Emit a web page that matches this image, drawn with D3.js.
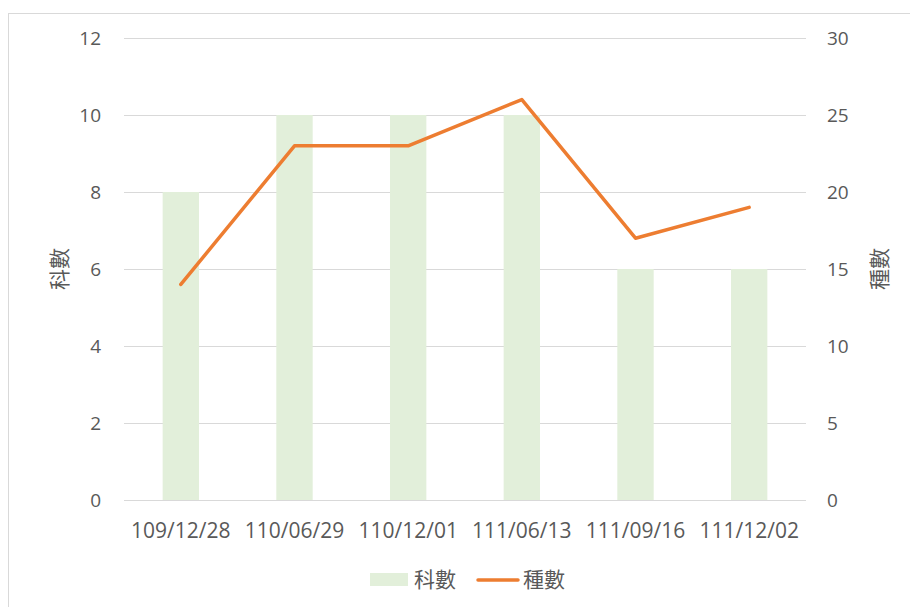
<!DOCTYPE html>
<head>
    <meta charset="utf-8" />
    <title>科數 / 種數</title>
</head>
<style>
    body {
        margin: 0;
        background-color: #ffffff;
    }
    text {
        font-family: "Open Sans", "Noto Sans CJK TC", sans-serif;
        fill: #595959;
    }
    .cjk {
        font-family: "Noto Sans CJK TC", sans-serif;
    }
</style>
<body>
    <svg id="chart" width="910" height="607"></svg>
    <script src="https://d3js.org/d3.v7.min.js"></script>
    <script>
        // data
        var dates = ["109/12/28", "110/06/29", "110/12/01", "111/06/13", "111/09/16", "111/12/02"];
        var keShu = [8, 10, 10, 10, 6, 6];        // 科數 (bars, left axis)
        var zhongShu = [14, 23, 23, 26, 17, 19];  // 種數 (line, right axis)
        var leftTicks = [0, 2, 4, 6, 8, 10, 12];
        var rightTicks = [0, 5, 10, 15, 20, 25, 30];

        var svg = d3.select("#chart");

        // chart border
        svg.append("rect")
            .attr("x", 8.5)
            .attr("y", 13.5)
            .attr("width", 940)
            .attr("height", 640)
            .attr("fill", "none")
            .attr("stroke", "#d9d9d9");

        var plotLeft = 124, plotRight = 806, plotTop = 38, plotBottom = 500;

        var x = d3.scaleBand().domain(dates).range([plotLeft, plotRight]).paddingInner(0.68).paddingOuter(0.34);
        var yL = d3.scaleLinear().domain([0, 12]).range([plotBottom, plotTop]);
        var yR = d3.scaleLinear().domain([0, 30]).range([plotBottom, plotTop]);

        // gridlines
        svg.append("g")
            .selectAll("line")
            .data(leftTicks)
            .enter().append("line")
            .attr("x1", plotLeft)
            .attr("x2", plotRight)
            .attr("y1", function(d) { return Math.round(yL(d)) + 0.5; })
            .attr("y2", function(d) { return Math.round(yL(d)) + 0.5; })
            .attr("stroke", "#d9d9d9")
            .attr("stroke-width", 1);

        // left tick labels
        svg.append("g")
            .selectAll("text")
            .data(leftTicks)
            .enter().append("text")
            .attr("x", 101)
            .attr("y", function(d) { return yL(d); })
            .attr("dy", "0.35em")
            .attr("text-anchor", "end")
            .attr("font-size", "19px")
            .text(function(d) { return d; });

        // right tick labels
        svg.append("g")
            .selectAll("text")
            .data(rightTicks)
            .enter().append("text")
            .attr("x", 827)
            .attr("y", function(d) { return yR(d); })
            .attr("dy", "0.35em")
            .attr("text-anchor", "start")
            .attr("font-size", "19px")
            .text(function(d) { return d; });

        // bars
        svg.append("g")
            .selectAll("rect")
            .data(dates)
            .enter().append("rect")
            .attr("x", function(d) { return x(d); })
            .attr("width", x.bandwidth())
            .attr("y", function(d, i) { return yL(keShu[i]); })
            .attr("height", function(d, i) { return plotBottom - yL(keShu[i]); })
            .attr("fill", "#e2efda");

        // x axis line
        svg.append("line")
            .attr("x1", plotLeft)
            .attr("x2", plotRight)
            .attr("y1", plotBottom + 0.5)
            .attr("y2", plotBottom + 0.5)
            .attr("stroke", "#d9d9d9");

        // category labels
        svg.append("g")
            .selectAll("text")
            .data(dates)
            .enter().append("text")
            .attr("x", function(d) { return x(d) + x.bandwidth() / 2; })
            .attr("y", 531)
            .attr("dy", "0.35em")
            .attr("text-anchor", "middle")
            .attr("font-size", "21px")
            .text(function(d) { return d; });

        // line
        var line = d3.line()
            .x(function(d, i) { return x(dates[i]) + x.bandwidth() / 2; })
            .y(function(d) { return yR(d); });

        svg.append("path")
            .datum(zhongShu)
            .attr("d", line)
            .attr("fill", "none")
            .attr("stroke", "#ed7d31")
            .attr("stroke-width", 3.5)
            .attr("stroke-linejoin", "round")
            .attr("stroke-linecap", "round");

        // axis titles
        svg.append("text")
            .attr("class", "cjk")
            .attr("transform", "translate(60," + (plotTop + plotBottom) / 2 + ") rotate(-90)")
            .attr("dy", "0.35em")
            .attr("text-anchor", "middle")
            .attr("font-size", "21px")
            .text("科數");

        svg.append("text")
            .attr("class", "cjk")
            .attr("transform", "translate(880," + (plotTop + plotBottom) / 2 + ") rotate(-90)")
            .attr("dy", "0.35em")
            .attr("text-anchor", "middle")
            .attr("font-size", "21px")
            .text("種數");

        // legend
        var legend = svg.append("g").attr("transform", "translate(0,580)");
        legend.append("rect")
            .attr("x", 370)
            .attr("y", -7)
            .attr("width", 38)
            .attr("height", 13)
            .attr("fill", "#e2efda");
        legend.append("text")
            .attr("class", "cjk")
            .attr("x", 414)
            .attr("dy", "0.35em")
            .attr("font-size", "21px")
            .text("科數");
        legend.append("line")
            .attr("x1", 478)
            .attr("x2", 518)
            .attr("stroke", "#ed7d31")
            .attr("stroke-width", 3.5)
            .attr("stroke-linecap", "round");
        legend.append("text")
            .attr("class", "cjk")
            .attr("x", 523)
            .attr("dy", "0.35em")
            .attr("font-size", "21px")
            .text("種數");
    </script>
</body>
